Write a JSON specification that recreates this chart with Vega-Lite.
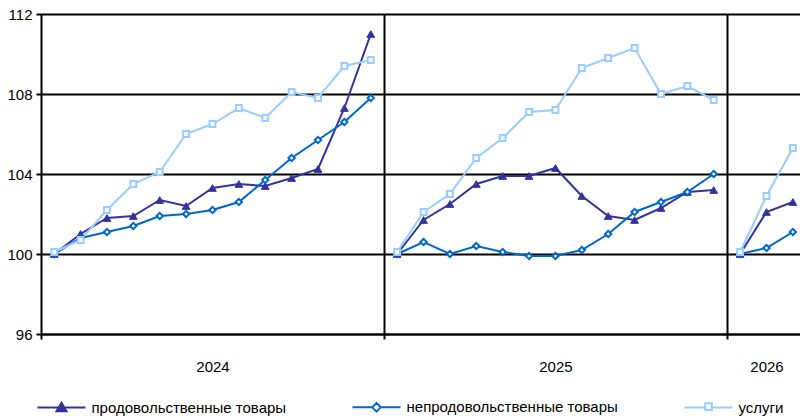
{
  "$schema": "https://vega.github.io/schema/vega-lite/v6.json",
  "width": 759,
  "height": 320,
  "autosize": "none",
  "padding": {"left": 41, "top": 14, "right": 0, "bottom": 82},
  "config": {
    "font": "Liberation Sans",
    "view": {"stroke": null},
    "axis": {"labelFont": "Liberation Sans", "labelFontSize": 15, "labelColor": "#000000", "domainColor": "#000000", "domainWidth": 2, "tickColor": "#000000", "tickWidth": 2, "gridColor": "#000000", "gridWidth": 2, "gridOpacity": 1, "title": null},
    "legend": {"labelFont": "Liberation Sans", "labelFontSize": 15, "labelColor": "#000000"}
  },
  "data": {"values": [
    {"s":"продовольственные товары","year":"2024","i":0,"v":100.0},
    {"s":"продовольственные товары","year":"2024","i":1,"v":101.0},
    {"s":"продовольственные товары","year":"2024","i":2,"v":101.8},
    {"s":"продовольственные товары","year":"2024","i":3,"v":101.9},
    {"s":"продовольственные товары","year":"2024","i":4,"v":102.7},
    {"s":"продовольственные товары","year":"2024","i":5,"v":102.4},
    {"s":"продовольственные товары","year":"2024","i":6,"v":103.3},
    {"s":"продовольственные товары","year":"2024","i":7,"v":103.5},
    {"s":"продовольственные товары","year":"2024","i":8,"v":103.4},
    {"s":"продовольственные товары","year":"2024","i":9,"v":103.8},
    {"s":"продовольственные товары","year":"2024","i":10,"v":104.25},
    {"s":"продовольственные товары","year":"2024","i":11,"v":107.3},
    {"s":"продовольственные товары","year":"2024","i":12,"v":111.0},
    {"s":"продовольственные товары","year":"2025","i":13,"v":100.0},
    {"s":"продовольственные товары","year":"2025","i":14,"v":101.7},
    {"s":"продовольственные товары","year":"2025","i":15,"v":102.5},
    {"s":"продовольственные товары","year":"2025","i":16,"v":103.5},
    {"s":"продовольственные товары","year":"2025","i":17,"v":103.9},
    {"s":"продовольственные товары","year":"2025","i":18,"v":103.9},
    {"s":"продовольственные товары","year":"2025","i":19,"v":104.3},
    {"s":"продовольственные товары","year":"2025","i":20,"v":102.9},
    {"s":"продовольственные товары","year":"2025","i":21,"v":101.9},
    {"s":"продовольственные товары","year":"2025","i":22,"v":101.7},
    {"s":"продовольственные товары","year":"2025","i":23,"v":102.3},
    {"s":"продовольственные товары","year":"2025","i":24,"v":103.1},
    {"s":"продовольственные товары","year":"2025","i":25,"v":103.2},
    {"s":"продовольственные товары","year":"2026","i":26,"v":100.0},
    {"s":"продовольственные товары","year":"2026","i":27,"v":102.1},
    {"s":"продовольственные товары","year":"2026","i":28,"v":102.6},
    {"s":"непродовольственные товары","year":"2024","i":0,"v":100.0},
    {"s":"непродовольственные товары","year":"2024","i":1,"v":100.8},
    {"s":"непродовольственные товары","year":"2024","i":2,"v":101.1},
    {"s":"непродовольственные товары","year":"2024","i":3,"v":101.4},
    {"s":"непродовольственные товары","year":"2024","i":4,"v":101.9},
    {"s":"непродовольственные товары","year":"2024","i":5,"v":102.0},
    {"s":"непродовольственные товары","year":"2024","i":6,"v":102.2},
    {"s":"непродовольственные товары","year":"2024","i":7,"v":102.6},
    {"s":"непродовольственные товары","year":"2024","i":8,"v":103.7},
    {"s":"непродовольственные товары","year":"2024","i":9,"v":104.8},
    {"s":"непродовольственные товары","year":"2024","i":10,"v":105.7},
    {"s":"непродовольственные товары","year":"2024","i":11,"v":106.6},
    {"s":"непродовольственные товары","year":"2024","i":12,"v":107.8},
    {"s":"непродовольственные товары","year":"2025","i":13,"v":100.0},
    {"s":"непродовольственные товары","year":"2025","i":14,"v":100.6},
    {"s":"непродовольственные товары","year":"2025","i":15,"v":100.0},
    {"s":"непродовольственные товары","year":"2025","i":16,"v":100.4},
    {"s":"непродовольственные товары","year":"2025","i":17,"v":100.1},
    {"s":"непродовольственные товары","year":"2025","i":18,"v":99.9},
    {"s":"непродовольственные товары","year":"2025","i":19,"v":99.9},
    {"s":"непродовольственные товары","year":"2025","i":20,"v":100.2},
    {"s":"непродовольственные товары","year":"2025","i":21,"v":101.0},
    {"s":"непродовольственные товары","year":"2025","i":22,"v":102.1},
    {"s":"непродовольственные товары","year":"2025","i":23,"v":102.6},
    {"s":"непродовольственные товары","year":"2025","i":24,"v":103.1},
    {"s":"непродовольственные товары","year":"2025","i":25,"v":104.0},
    {"s":"непродовольственные товары","year":"2026","i":26,"v":100.0},
    {"s":"непродовольственные товары","year":"2026","i":27,"v":100.3},
    {"s":"непродовольственные товары","year":"2026","i":28,"v":101.1},
    {"s":"услуги","year":"2024","i":0,"v":100.1},
    {"s":"услуги","year":"2024","i":1,"v":100.7},
    {"s":"услуги","year":"2024","i":2,"v":102.2},
    {"s":"услуги","year":"2024","i":3,"v":103.5},
    {"s":"услуги","year":"2024","i":4,"v":104.1},
    {"s":"услуги","year":"2024","i":5,"v":106.0},
    {"s":"услуги","year":"2024","i":6,"v":106.5},
    {"s":"услуги","year":"2024","i":7,"v":107.3},
    {"s":"услуги","year":"2024","i":8,"v":106.8},
    {"s":"услуги","year":"2024","i":9,"v":108.1},
    {"s":"услуги","year":"2024","i":10,"v":107.8},
    {"s":"услуги","year":"2024","i":11,"v":109.4},
    {"s":"услуги","year":"2024","i":12,"v":109.7},
    {"s":"услуги","year":"2025","i":13,"v":100.1},
    {"s":"услуги","year":"2025","i":14,"v":102.1},
    {"s":"услуги","year":"2025","i":15,"v":103.0},
    {"s":"услуги","year":"2025","i":16,"v":104.8},
    {"s":"услуги","year":"2025","i":17,"v":105.8},
    {"s":"услуги","year":"2025","i":18,"v":107.1},
    {"s":"услуги","year":"2025","i":19,"v":107.2},
    {"s":"услуги","year":"2025","i":20,"v":109.3},
    {"s":"услуги","year":"2025","i":21,"v":109.8},
    {"s":"услуги","year":"2025","i":22,"v":110.3},
    {"s":"услуги","year":"2025","i":23,"v":108.0},
    {"s":"услуги","year":"2025","i":24,"v":108.4},
    {"s":"услуги","year":"2025","i":25,"v":107.7},
    {"s":"услуги","year":"2026","i":26,"v":100.1},
    {"s":"услуги","year":"2026","i":27,"v":102.9},
    {"s":"услуги","year":"2026","i":28,"v":105.3}
  ]},
  "encoding": {
    "x": {"field": "i", "type": "quantitative",
      "scale": {"domain": [-0.5, 28.27], "nice": false, "zero": false},
      "axis": {"values": [-0.5, 6, 12.5, 19, 25.5, 27],
        "labelExpr": "datum.value == 6 ? '2024' : datum.value == 19 ? '2025' : datum.value == 27 ? '2026' : ''",
        "labelOverlap": false, "labelFlush": false, "tickSize": 5, "labelPadding": 20,
        "tickOpacity": {"condition": {"test": "datum.value == 6 || datum.value == 19 || datum.value == 27", "value": 0}, "value": 1},
        "grid": true,
        "gridOpacity": {"condition": {"test": "datum.value == 12.5 || datum.value == 25.5", "value": 1}, "value": 0}}},
    "y": {"field": "v", "type": "quantitative",
      "scale": {"domain": [96, 112], "nice": false, "zero": false},
      "axis": {"values": [96, 100, 104, 108, 112], "tickSize": 5, "labelPadding": 4, "labelFlush": false, "grid": true}},
    "stroke": {"field": "s", "type": "nominal",
      "scale": {"domain": ["продовольственные товары", "непродовольственные товары", "услуги"], "range": ["#333399", "#0066CC", "#99CCFF"]},
      "legend": {"orient": "none", "legendX": -4.5, "legendY": 368, "direction": "horizontal", "title": null, "labelLimit": 0, "symbolType": "M-1,0H1", "symbolSize": 2304, "symbolStrokeWidth": 2, "labelOffset": 5, "columnPadding": 62,
        "encode": {"symbols": {"update": {
          "shape": {"signal": "datum.value === 'продовольственные товары' ? 'M-1,0H1M0,-0.2L0.21,0.16L-0.21,0.16Z' : datum.value === 'непродовольственные товары' ? 'M-1,0H-0.18M0.18,0H1M-0.18,0L0,-0.18L0.18,0L0,0.18Z' : 'M-1,0H-0.14M0.14,0H1M-0.14,-0.18H0.14V0.1H-0.14Z'"},
          "fill": {"signal": "datum.value === 'продовольственные товары' ? '#333399' : '#ffffff'"},
          "size": {"value": 2304},
          "opacity": {"value": 1}}}}}}
  },
  "layer": [
    {
      "mark": {"type": "line", "strokeWidth": 2},
      "encoding": {
        "detail": {"field": "year"}
      }
    },
    {
      "transform": [{"filter": "datum.s === 'продовольственные товары'"}],
      "mark": {"type": "point", "shape": "triangle-up", "filled": true, "fill": "#333399", "opacity": 1, "strokeWidth": 1, "size": 60}
    },
    {
      "transform": [{"filter": "datum.s === 'непродовольственные товары'"}],
      "mark": {"type": "point", "shape": "diamond", "fill": "#ffffff", "opacity": 1, "strokeWidth": 2, "size": 40}
    },
    {
      "transform": [{"filter": "datum.s === 'услуги'"}],
      "mark": {"type": "point", "shape": "square", "fill": "#ffffff", "opacity": 1, "strokeWidth": 2, "size": 34}
    }
  ]
}
